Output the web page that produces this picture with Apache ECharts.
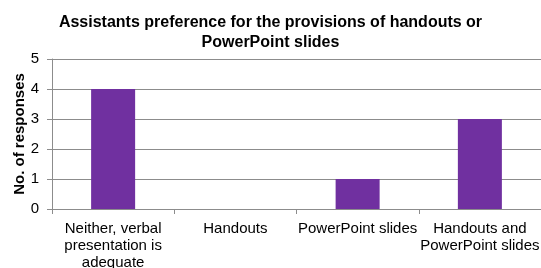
<!DOCTYPE html>
<html>
<head>
<meta charset="utf-8">
<script src="https://cdn.jsdelivr.net/npm/echarts@6/dist/echarts.min.js"></script>
<style>
  html, body { margin: 0; padding: 0; background: #fff; }
  #chart { width: 541px; height: 268px; }
</style>
</head>
<body>
<div id="chart"></div>
<script>
const categories = [
  'Neither, verbal\npresentation is\nadequate',
  'Handouts',
  'PowerPoint slides',
  'Handouts and\nPowerPoint slides'
]
const responses = [4, 0, 1, 3]

const chart = echarts.init(document.getElementById('chart'))
const axisGray = '#8c8c8c'

chart.setOption({
  animation: false,
  title: {
    text: 'Assistants preference for the provisions of handouts or\nPowerPoint slides',
    left: 'center',
    top: 8,
    textStyle: {
      fontFamily: 'Liberation Sans',
      fontSize: 16,
      fontWeight: 'bold',
      color: '#000',
      lineHeight: 20
    }
  },
  grid: { left: 52, right: 0, top: 59, bottom: 59, outerBoundsMode: 'none', containLabel: false },
  xAxis: {
    type: 'category',
    data: categories,
    axisLine: { lineStyle: { color: axisGray } },
    axisTick: { show: true, alignWithLabel: false, length: 5, lineStyle: { color: axisGray } },
    axisLabel: {
      interval: 0,
      margin: 11,
      fontFamily: 'Liberation Sans',
      fontSize: 15,
      lineHeight: 17,
      color: '#000'
    }
  },
  yAxis: {
    type: 'value',
    min: 0,
    max: 5,
    interval: 1,
    name: 'No. of responses',
    nameLocation: 'middle',
    nameGap: 25,
    nameMoveOverlap: false,
    nameTextStyle: {
      fontFamily: 'Liberation Sans',
      fontSize: 15,
      fontWeight: 'bold',
      color: '#000'
    },
    axisLine: { show: true, lineStyle: { color: axisGray } },
    axisTick: { show: true, length: 5, lineStyle: { color: axisGray } },
    axisLabel: {
      margin: 13,
      fontFamily: 'Liberation Sans',
      fontSize: 15,
      color: '#000'
    },
    splitLine: { lineStyle: { color: axisGray } }
  },
  series: [{
    type: 'bar',
    data: responses,
    barWidth: '36%',
    itemStyle: { color: '#7030A0' }
  }]
})
</script>
</body>
</html>
